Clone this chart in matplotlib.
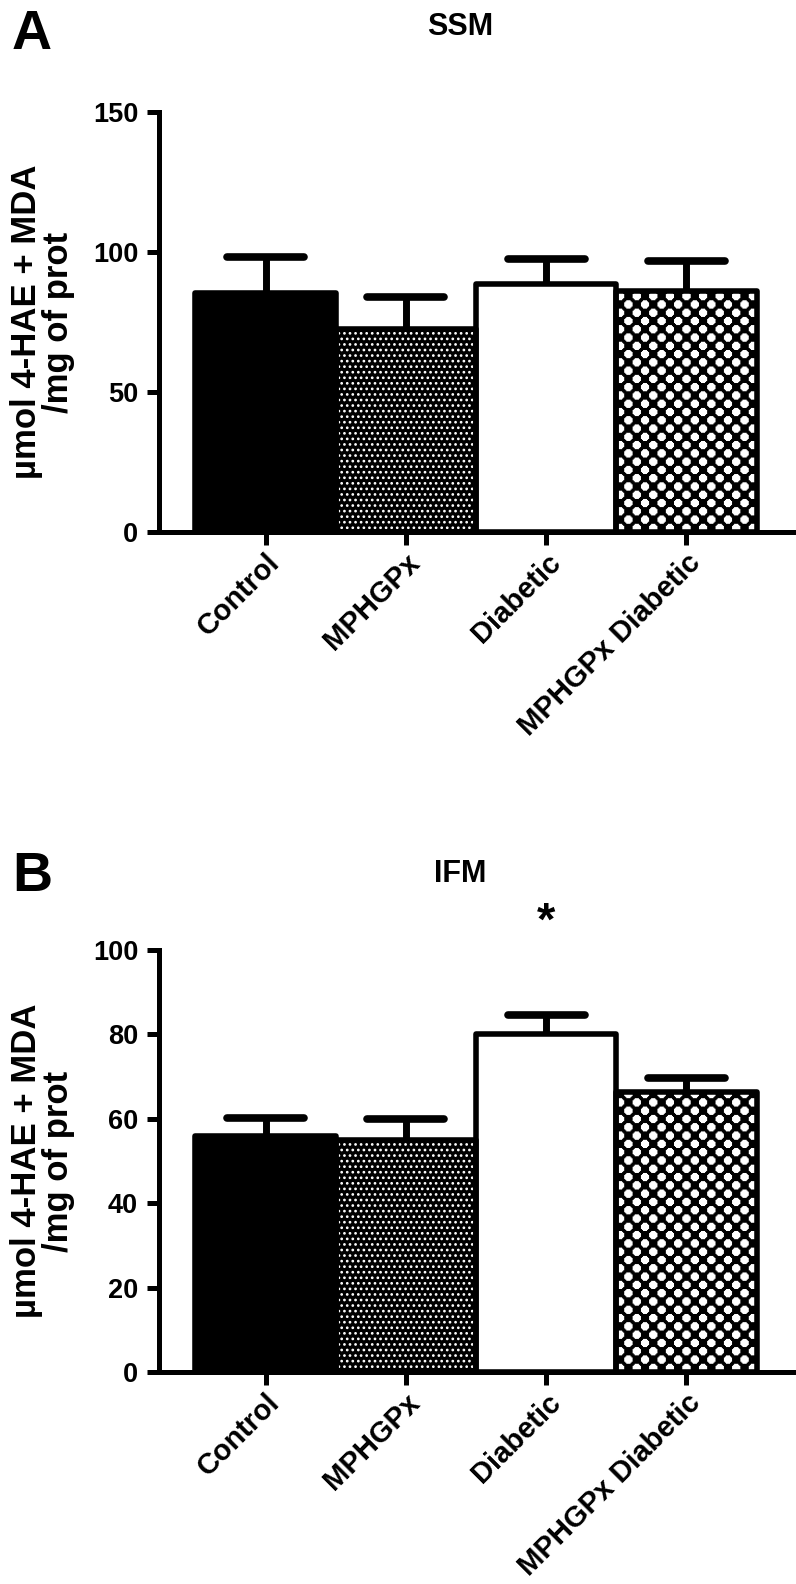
"""Lipid peroxidation (4-HAE + MDA) in SSM and IFM mitochondria."""
import numpy as np
import matplotlib
matplotlib.use("Agg")
import matplotlib.pyplot as plt

plt.rcParams["font.family"] = ["Liberation Sans", "DejaVu Sans"]
plt.rcParams["font.weight"] = "bold"
plt.rcParams["hatch.linewidth"] = 1.15

# Data
groups = ["Control", "MPHGPx", "Diabetic", "MPHGPx Diabetic"]
ssm_mean = [85.5, 72.5, 88.5, 86.0]
ssm_sem = [12.8, 11.3, 9.0, 10.8]
ifm_mean = [55.9, 54.9, 80.1, 66.4]
ifm_sem = [4.3, 5.1, 4.4, 3.4]
ifm_sig = ["", "", "*", ""]

ylabel = "µmol 4-HAE + MDA\n/mg of prot"
faces = ["black", "black", "white", "black"]
hatches = [None, "...", None, None]
checker = [False, False, False, True]

LW = 4.0


def checker_fill(ax, bar, cell_px=8.3, sub=8):
    """Fill a bar with white rounded squares laid out like a checkerboard."""
    x0, y0 = bar.get_x(), bar.get_y()
    w, h = bar.get_width(), bar.get_height()
    (px0, py0), (px1, py1) = ax.transData.transform([(x0, y0), (x0 + w, y0 + h)])
    nx = int(np.ceil((px1 - px0) / cell_px * sub))
    ny = int(np.ceil((py1 - py0) / cell_px * sub))
    u = (np.arange(nx) + 0.5) / sub
    v = (np.arange(ny) + 0.5) / sub
    U, V = np.meshgrid(u, v)
    ci, cj = np.floor(U), np.floor(V)
    du, dv = np.abs(U - ci - 0.5), np.abs(V - cj - 0.5)
    white = ((ci + cj) % 2 == 0) & (du ** 2.5 + dv ** 2.5 < 0.47 ** 2.5)
    img = ax.imshow(white.astype(float), cmap="gray", vmin=0, vmax=1,
                    extent=(x0, x0 + w, y0, y0 + h), origin="lower",
                    interpolation="antialiased", aspect="auto", zorder=2.5)
    img.set_clip_path(bar)


def draw_panel(ax, means, sems, ymax, yticks, title, letter, letter_y, title_y, sig=None):
    x = np.arange(len(groups))
    xlim = (-0.76, len(groups) - 0.24)
    ax.set_xlim(*xlim)
    ax.set_ylim(0, ymax)

    bars = ax.bar(x, means, width=1.0, color=faces, edgecolor="white",
                  linewidth=0, zorder=2)
    for bar, hatch in zip(bars, hatches):
        if hatch:
            bar.set_hatch(hatch)
    for bar, chk in zip(bars, checker):
        if chk:
            checker_fill(ax, bar)
    ax.bar(x, means, width=1.0, facecolor="none", edgecolor="black",
           linewidth=LW, zorder=4, joinstyle="round")

    # upper error bars only
    tops = np.array(means) + np.array(sems)
    ax.vlines(x, means, tops, color="black", linewidth=5, zorder=3)
    ax.hlines(tops, x - 0.275, x + 0.275, color="black", linewidth=5.5,
              capstyle="round", zorder=3)

    if sig:
        for xi, top, s in zip(x, tops, sig):
            if s:
                ax.annotate(s, xy=(xi, top), xytext=(0, 58), textcoords="offset points",
                            ha="center", va="baseline", fontsize=34, fontweight="bold")

    ax.set_xlim(*xlim)
    ax.set_ylim(0, ymax)
    ax.set_xticks(x)
    ax.set_xticklabels(groups, rotation=45, ha="right", rotation_mode="anchor",
                       fontsize=21, fontweight="bold")
    ax.set_yticks(yticks)
    ax.set_yticklabels([str(t) for t in yticks], fontsize=19.5, fontweight="bold")
    ax.tick_params(axis="both", length=9, width=3.6, color="black", pad=6)
    ax.tick_params(axis="x", pad=3)

    for side in ("top", "right"):
        ax.spines[side].set_visible(False)
    for side in ("left", "bottom"):
        ax.spines[side].set_linewidth(3.6)
        ax.spines[side].set_capstyle("projecting")
        ax.spines[side].set_zorder(5)

    ax.set_ylabel(ylabel, fontsize=25, fontweight="bold", linespacing=0.98)
    ax.yaxis.set_label_coords(-0.132, 0.5)

    ax.text(0.475, title_y, title, transform=ax.transAxes, ha="center",
            va="baseline", fontsize=22, fontweight="bold")
    ax.figure.text(12 / 796, letter_y, letter, ha="left", va="top",
                   fontsize=40, fontweight="bold")


fig = plt.figure(figsize=(7.96, 15.84), dpi=100)
ax_a = fig.add_axes([0.1997, 0.6641, 0.7965, 0.2652])
ax_b = fig.add_axes([0.1997, 0.1338, 0.7965, 0.2664])

draw_panel(ax_a, ssm_mean, ssm_sem, 150, [0, 50, 100, 150], "SSM", "A",
           1 - 9 / 1584, 1.183)
draw_panel(ax_b, ifm_mean, ifm_sem, 100, [0, 20, 40, 60, 80, 100], "IFM", "B",
           1 - 851 / 1584, 1.161, sig=ifm_sig)

fig.savefig("out.png", dpi=100)
plt.close(fig)
